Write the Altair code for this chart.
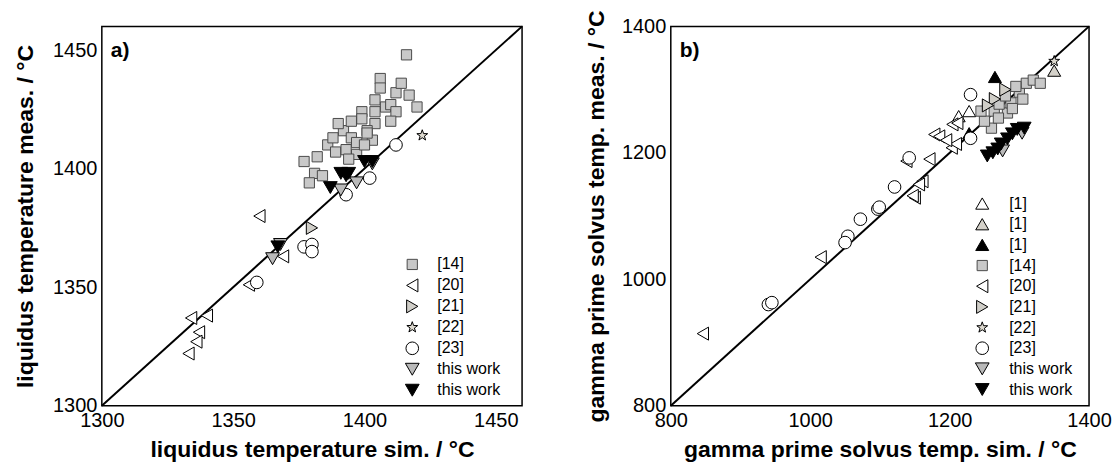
import altair as alt
import pandas as pd

FONT = "Liberation Sans"

# ---------------- panel a: liquidus temperature ----------------
a_lim = [1300, 1460]
a_ticks = [1300, 1350, 1400, 1450]

a14_x = [1416, 1406, 1406, 1412, 1417, 1420, 1404, 1408, 1410, 1412, 1404, 1399, 1404, 1399, 1401,
         1403, 1392, 1395, 1401, 1397, 1386, 1389, 1393, 1382, 1377, 1397, 1381, 1384, 1379,
         1390, 1395, 1400, 1410, 1414, 1388, 1394]
a14_y = [1448, 1438, 1434, 1432, 1431, 1426, 1429, 1426, 1427, 1424, 1424, 1424, 1419, 1421, 1416,
         1412, 1416, 1413, 1415, 1411, 1410, 1407, 1408, 1405, 1403, 1406, 1398, 1397, 1394,
         1419, 1420, 1410, 1420, 1436, 1413, 1404]
a20_x = [1334, 1340, 1337, 1336, 1333, 1356, 1369, 1360]
a20_y = [1337, 1338, 1331, 1327, 1322, 1351, 1363, 1380]
a21_x = [1380]
a21_y = [1375]
a22_x = [1422]
a22_y = [1414]
a23_x = [1412, 1402, 1393, 1377, 1380, 1380, 1359]
a23_y = [1410, 1396, 1389, 1367, 1368, 1365, 1352]
agw_x = [1403, 1397, 1391, 1368, 1365]
agw_y = [1402, 1394, 1391, 1368, 1362]
abw_x = [1400, 1403, 1391, 1394, 1393, 1387, 1367]
abw_y = [1403, 1403, 1398, 1398, 1397, 1392, 1367]

# ---------------- panel b: gamma prime solvus ----------------
b_lim = [800, 1400]
b_ticks = [800, 1000, 1200, 1400]

b1w_x = [1228, 1213]
b1w_y = [1266, 1258]
b1g_x = [1350]
b1g_y = [1330]
b1k_x = [1228, 1265]
b1k_y = [1231, 1320]
b14_x = [1260, 1250, 1245, 1264, 1283, 1271, 1288, 1300, 1310, 1320, 1330, 1295, 1280, 1305, 1270, 1290]
b14_y = [1239, 1250, 1266, 1266, 1263, 1277, 1279, 1296, 1310, 1315, 1310, 1305, 1290, 1285, 1255, 1270]
b20_x = [846, 1015, 1138, 1171, 1150, 1147, 1161, 1156, 1178, 1185, 1204, 1211, 1203, 1209, 1195]
b20_y = [914, 1035, 1187, 1190, 1129, 1132, 1155, 1150, 1229, 1226, 1245, 1247, 1208, 1214, 1220]
b21_x = [1265, 1255, 1280]
b21_y = [1285, 1275, 1300]
b22_x = [1350]
b22_y = [1345]
b23_x = [940, 945, 1054, 1050, 1072, 1097, 1099, 1121, 1142, 1230, 1230]
b23_y = [960, 963, 1068, 1058, 1095, 1111, 1114, 1146, 1192, 1223, 1292]
bgw_x = [1304, 1276]
bgw_y = [1231, 1203]
bbw_x = [1254, 1262, 1269, 1274, 1283, 1290, 1297, 1307]
bbw_y = [1195, 1200, 1206, 1214, 1222, 1230, 1237, 1239]

STAR = ("M0,-1L0.235,-0.324L0.951,-0.309L0.38,0.124L0.588,0.809L0,0.4"
        "L-0.588,0.809L-0.38,0.124L-0.951,-0.309L-0.235,-0.324Z")

# style per series key: shape, fill, stroke, size
STYLE = {
    "[1]|w": ("triangle-up", "#ffffff", "#000000", 170),
    "[1]|g": ("triangle-up", "#d4d1c9", "#000000", 170),
    "[1]|k": ("triangle-up", "#000000", "#000000", 170),
    "[14]": ("square", "#c8c8c8", "#4a4a4a", 105),
    "[20]": ("triangle-left", "#ffffff", "#000000", 170),
    "[21]": ("triangle-right", "#d0cec8", "#000000", 170),
    "[22]": (STAR, "#dedad0", "#000000", 130),
    "[23]": ("circle", "#ffffff", "#000000", 160),
    "this work|g": ("triangle-down", "#b9b9b9", "#000000", 190),
    "this work|k": ("triangle-down", "#000000", "#000000", 190),
}


def frame(series):
    rows = []
    for key, xs, ys in series:
        for xv, yv in zip(xs, ys):
            rows.append({"x": xv, "y": yv, "s": key, "sz": STYLE[key][3]})
    return pd.DataFrame(rows)


def panel(df, lim, ticks, xtitle, ytitle, tag, sym_x, lab_x, row0, row_step, w, ytp):
    dom = list(dict.fromkeys(df["s"]))
    shapes = [STYLE[k][0] for k in dom]
    fills = [STYLE[k][1] for k in dom]
    strokes = [STYLE[k][2] for k in dom]
    sc = alt.Scale(domain=lim, nice=False, zero=False)
    common = dict(values=ticks, format="d", ticks=False, grid=False, domain=False,
                  labelFontSize=20, labelFont=FONT, labelColor="black", labelPadding=5,
                  labelFlush=False, labelOverlap=False, titleFont=FONT, titleFontSize=23,
                  titleFontWeight="bold", titleColor="black")
    xax = alt.Axis(title=xtitle, titlePadding=8, **common)
    yax = alt.Axis(title=ytitle, titlePadding=ytp, **common)
    enc_style = dict(
        shape=alt.Shape("s:N", scale=alt.Scale(domain=dom, range=shapes), legend=None),
        fill=alt.Fill("s:N", scale=alt.Scale(domain=dom, range=fills), legend=None),
        stroke=alt.Stroke("s:N", scale=alt.Scale(domain=dom, range=strokes), legend=None),
        size=alt.Size("sz:Q", scale=None, legend=None),
    )
    line = alt.Chart(pd.DataFrame({"x": lim, "y": lim})).mark_line(
        color="black", strokeWidth=2).encode(
        x=alt.X("x:Q", scale=sc, axis=xax), y=alt.Y("y:Q", scale=sc, axis=yax))
    pts = alt.Chart(df).mark_point(filled=True, opacity=1, strokeWidth=1).encode(
        x=alt.X("x:Q", scale=sc, axis=xax),
        y=alt.Y("y:Q", scale=sc, axis=yax),
        **enc_style,
    )
    # legend built from the series keys
    leg_df = pd.DataFrame({"s": dom, "label": [k.split("|")[0] for k in dom],
                           "sz": [STYLE[k][3] for k in dom],
                           "i": list(range(len(dom)))})
    leg_base = alt.Chart(leg_df).transform_calculate(
        py=f"{row0} + {row_step} * datum.i")
    leg_sym = leg_base.mark_point(filled=True, opacity=1, strokeWidth=1).encode(
        x=alt.value(sym_x), y=alt.Y("py:Q", scale=None, axis=None), **enc_style)
    leg_txt = leg_base.mark_text(align="left", baseline="middle", font=FONT, fontSize=16,
                                 color="black").encode(
        x=alt.value(lab_x), y=alt.Y("py:Q", scale=None, axis=None), text="label:N")
    lab = alt.Chart(pd.DataFrame({"t": [tag]})).mark_text(
        align="left", baseline="middle", fontWeight="bold", fontSize=21, font=FONT,
        color="black").encode(x=alt.value(9), y=alt.value(25), text="t:N")
    return alt.layer(line, pts, leg_sym, leg_txt, lab).properties(width=w, height=380)


df_a = frame([
    ("[14]", a14_x, a14_y), ("[20]", a20_x, a20_y), ("[21]", a21_x, a21_y),
    ("[22]", a22_x, a22_y), ("[23]", a23_x, a23_y),
    ("this work|g", agw_x, agw_y), ("this work|k", abw_x, abw_y),
])
df_b = frame([
    ("[1]|w", b1w_x, b1w_y), ("[1]|g", b1g_x, b1g_y), ("[1]|k", b1k_x, b1k_y),
    ("[14]", b14_x, b14_y), ("[20]", b20_x, b20_y), ("[21]", b21_x, b21_y),
    ("[22]", b22_x, b22_y), ("[23]", b23_x, b23_y),
    ("this work|g", bgw_x, bgw_y), ("this work|k", bbw_x, bbw_y),
])

pa = panel(df_a, a_lim, a_ticks, "liquidus temperature sim. / °C",
           "liquidus temperature meas. / °C", "a)", 311, 336, 238.5, 21, 421, 15)
pb = panel(df_b, b_lim, b_ticks, "gamma prime solvus temp. sim. / °C",
           "gamma prime solvus temp. meas. / °C", "b)", 312, 339, 177.5, 20.7, 419, 13)

chart = alt.hconcat(pa, pb, spacing=57).resolve_scale(
    x="independent", y="independent", shape="independent", fill="independent",
    stroke="independent").properties(
    padding={"left": 5, "top": 0, "right": 0, "bottom": 0}).configure_view(
    stroke="black", strokeWidth=1.5)

chart.save("out.html", embed_options={"renderer": "svg", "actions": False})
